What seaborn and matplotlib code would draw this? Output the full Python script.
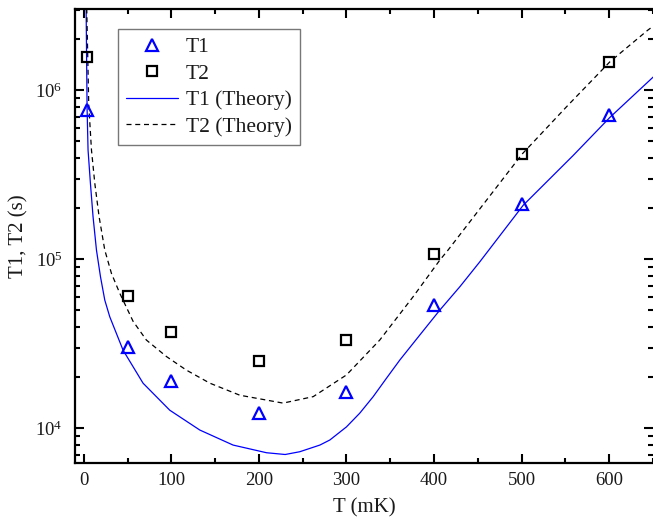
import numpy as np
import pandas as pd
import matplotlib
matplotlib.use("Agg")
import matplotlib.pyplot as plt
import matplotlib.ticker as mticker
import seaborn as sns

# ---- data ----
x_meas = [4, 50, 100, 200, 300, 400, 500, 600]
t1_meas = [7.64e5, 3.01e4, 1.91e4, 1.23e4, 1.65e4, 5.37e4, 2.14e5, 7.14e5]
t2_meas = [1.58e6, 6.1e4, 3.70e4, 2.50e4, 3.33e4, 1.07e5, 4.2e5, 1.48e6]

x_t1_th = [2.7, 3.8, 4.9, 7.6, 10.6, 14.5, 19.1, 24, 29.7, 44.9, 67.7, 98.2,
           132.5, 170.5, 208.7, 230, 246.7, 269.6, 281, 300, 315.2, 330.5,
           345.7, 361, 383.8, 406.6, 429.5, 452.3, 501.8, 558.9,
           600.8, 650.3]
y_t1_th = [3.05e6, 7.8e5, 4.44e5, 2.82e5, 1.79e5, 1.135e5, 7.89e4, 5.74e4,
           4.57e4, 2.9e4, 1.85e4, 1.28e4, 9.77e3, 7.96e3, 7.17e3, 7.0e3,
           7.27e3, 7.96e3, 8.53e3, 1.02e4, 1.23e4, 1.54e4, 1.98e4, 2.54e4,
           3.57e4, 5.01e4, 6.89e4, 9.68e4, 2.09e5, 4.12e5, 6.92e5,
           1.2e6]

x_t2_th = [3.4, 5.7, 8.8, 12.6, 17.5, 24, 31.6, 41.1, 56.3, 71.5, 94.4, 117.2,
           144, 178.2, 227.6, 262, 300, 338, 376.1, 406.6, 416, 454.2, 500.6,
           551.3, 600.8, 644, 650.3]
y_t2_th = [3.05e6, 8.2e5, 4.44e5, 2.82e5, 1.79e5, 1.135e5, 8.26e4, 6.3e4,
           4.3e4, 3.33e4, 2.66e4, 2.21e4, 1.85e4, 1.57e4, 1.41e4, 1.54e4,
           2.07e4, 3.33e4, 6.01e4, 9.9e4, 1.135e5, 2.05e5, 4.2e5, 8.0e5,
           1.476e6, 2.27e6, 2.4e6]

labels = ["T1", "T2", "T1 (Theory)", "T2 (Theory)"]

# ---- styling ----
sns.set_theme(style="ticks")
plt.rcParams["font.family"] = ["Liberation Serif", "DejaVu Serif"]
plt.rcParams["mathtext.fontset"] = "custom"
plt.rcParams["mathtext.rm"] = "Liberation Serif"
plt.rcParams["mathtext.it"] = "Liberation Serif:italic"
plt.rcParams["mathtext.bf"] = "Liberation Serif:bold"

fig = plt.figure(figsize=(6.53, 5.25), dpi=100)
ax = fig.add_axes([75 / 653, 1 - 462.7 / 525, 1 - 75 / 653, (462.7 - 9) / 525])

df_meas = pd.DataFrame({"x": x_meas, "t1": t1_meas, "t2": t2_meas})
df_t1 = pd.DataFrame({"x": x_t1_th, "y": y_t1_th})
df_t2 = pd.DataFrame({"x": x_t2_th, "y": y_t2_th})

sns.lineplot(data=df_t1, x="x", y="y", ax=ax, color="#0000ff", lw=0.9,
             estimator=None, sort=False, label=labels[2])
sns.lineplot(data=df_t2, x="x", y="y", ax=ax, color="black", lw=0.9,
             estimator=None, sort=False, label=labels[3], dashes=False,
             linestyle=(0, (4, 3)))
sns.lineplot(data=df_meas, x="x", y="t1", ax=ax, marker="^", linestyle="",
             mfc="none", mec="#0000ff", ms=8, mew=1.6, color="#0000ff",
             estimator=None, label=labels[0])
sns.lineplot(data=df_meas, x="x", y="t2", ax=ax, marker="s", linestyle="",
             mfc="none", mec="black", ms=6.5, mew=1.6, color="black",
             estimator=None, label=labels[1])

ax.set_yscale("log")
ax.set_xlim(-10, 650)
ax.set_ylim(6260, 3.03e6)

ax.xaxis.set_major_locator(mticker.MultipleLocator(100))
ax.xaxis.set_minor_locator(mticker.MultipleLocator(50))
ax.yaxis.set_major_locator(mticker.LogLocator(base=10, numticks=10))
ax.yaxis.set_minor_locator(mticker.LogLocator(base=10, subs=np.arange(2, 10), numticks=20))
ax.yaxis.set_minor_formatter(mticker.NullFormatter())

ax.tick_params(which="both", direction="in", top=True, right=True,
               width=1.5, color="black", labelsize=13.5, labelcolor="#1a1a1a")
ax.tick_params(which="major", length=6.5)
ax.tick_params(which="minor", length=3.5)
ax.tick_params(axis="x", pad=7)
ax.tick_params(axis="y", pad=9)

for side in ["left", "bottom", "top"]:
    ax.spines[side].set_linewidth(1.6)
    ax.spines[side].set_color("black")
ax.spines["right"].set_visible(False)

ax.set_xlabel("T (mK)", fontsize=15, color="#1a1a1a", labelpad=6)
ax.set_ylabel("T1, T2 (s)", fontsize=15, color="#1a1a1a", labelpad=5)

handles, labs = ax.get_legend_handles_labels()
hmap = dict(zip(labs, handles))
leg = ax.legend([hmap[l] for l in labels], labels, loc="upper left",
                bbox_to_anchor=((118 - 75) / 578, (462.7 - 29) / 453.7),
                borderaxespad=0, fontsize=15.5, frameon=True, fancybox=False,
                edgecolor="#555555", handlelength=2.4, handletextpad=0.36,
                labelspacing=0.3, borderpad=0.38, numpoints=1)
leg.get_frame().set_linewidth(1.0)
for t in leg.get_texts():
    t.set_color("#1a1a1a")

fig.savefig("out.png", dpi=100)
